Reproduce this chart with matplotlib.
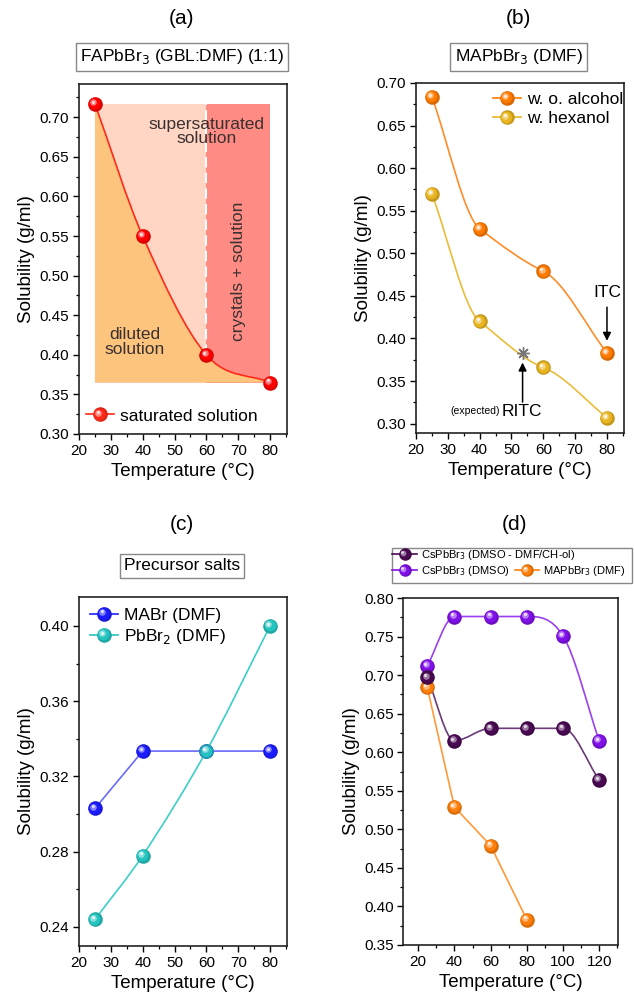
import numpy as np
import matplotlib
matplotlib.use("Agg")
import matplotlib.pyplot as plt
from matplotlib.path import Path
from matplotlib.patches import PathPatch, Rectangle
from matplotlib.ticker import MultipleLocator, AutoMinorLocator, FormatStrFormatter
from matplotlib.transforms import offset_copy
from matplotlib.lines import Line2D
from matplotlib.legend_handler import HandlerLine2D

plt.rcParams['font.family'] = ['Liberation Sans', 'DejaVu Sans']

# ---------------- data ----------------
# (a) FAPbBr3 (GBL:DMF) (1:1)
temp_a = [25, 40, 60, 80]
sol_a = [0.717, 0.550, 0.400, 0.365]

# (b) MAPbBr3 (DMF)
temp_b = [25, 40, 60, 80]
sol_b_wo = [0.684, 0.529, 0.479, 0.383]
sol_b_hex = [0.570, 0.420, 0.366, 0.307]
ritc_point = (53.5, 0.383)

# (c) Precursor salts
temp_c = [25, 40, 60, 80]
sol_mabr = [0.303, 0.3335, 0.3335, 0.3335]
sol_pbbr2 = [0.244, 0.278, 0.3335, 0.400]

# (d)
temp_d = [25, 40, 60, 80, 100, 120]
sol_cs_mix = [0.697, 0.615, 0.631, 0.631, 0.631, 0.564]
sol_cs_dmso = [0.712, 0.776, 0.776, 0.776, 0.751, 0.615]
temp_d_ma = [25, 40, 60, 80]
sol_d_ma = [0.684, 0.529, 0.479, 0.383]

labels_d = ['CsPbBr$_3$ (DMSO - DMF/CH-ol)', 'CsPbBr$_3$ (DMSO)', 'MAPbBr$_3$ (DMF)']

# ---------------- helpers ----------------
def limited_slopes(x, y, tension=1.0):
    """Cardinal-spline tangents with a Fritsch-Carlson limiter (no overshoot)."""
    x = np.asarray(x, float); y = np.asarray(y, float)
    n = len(x)
    dl = np.diff(y) / np.diff(x)
    d = np.zeros(n)
    d[0] = dl[0]; d[-1] = dl[-1]
    for k in range(1, n - 1):
        if dl[k - 1] * dl[k] <= 0:
            d[k] = 0.0
        else:
            d[k] = tension * (y[k + 1] - y[k - 1]) / (x[k + 1] - x[k - 1])
    for k in range(n - 1):
        if dl[k] == 0:
            d[k] = 0.0; d[k + 1] = 0.0
            continue
        a = d[k] / dl[k]; b = d[k + 1] / dl[k]
        s = a * a + b * b
        if s > 9:
            t = 3 / np.sqrt(s)
            d[k] = t * a * dl[k]; d[k + 1] = t * b * dl[k]
    return d


def smooth_path(x, y, tension=1.0):
    x = np.asarray(x, float); y = np.asarray(y, float)
    d = limited_slopes(x, y, tension)
    verts = [(x[0], y[0])]
    codes = [Path.MOVETO]
    for i in range(len(x) - 1):
        hh = x[i + 1] - x[i]
        verts += [(x[i] + hh / 3, y[i] + d[i] * hh / 3),
                  (x[i + 1] - hh / 3, y[i + 1] - d[i + 1] * hh / 3),
                  (x[i + 1], y[i + 1])]
        codes += [Path.CURVE4] * 3
    return Path(verts, codes)


def smooth_line(ax, x, y, color, lw=1.2, z=2, tension=1.0):
    p = PathPatch(smooth_path(x, y, tension), facecolor='none', edgecolor=color, lw=lw, zorder=z)
    ax.add_patch(p)


def lighten(c, f):
    c = np.array(matplotlib.colors.to_rgb(c))
    return tuple(c + (1 - c) * f)


def darken(c, f):
    c = np.array(matplotlib.colors.to_rgb(c))
    return tuple(c * (1 - f))


MS = 10.5


def spheres(ax, x, y, color, ms=MS, z=5):
    fig = ax.figure
    ax.plot(x, y, 'o', ms=ms, color=darken(color, 0.15), mec='none', zorder=z)
    ax.plot(x, y, 'o', ms=ms * 0.8, color=color, mec='none', zorder=z + 0.1,
            transform=offset_copy(ax.transData, fig=fig, x=-0.4, y=0.4, units='points'))
    ax.plot(x, y, 'o', ms=ms * 0.45, color=lighten(color, 0.45), mec='none', zorder=z + 0.2,
            transform=offset_copy(ax.transData, fig=fig, x=-1.2, y=1.2, units='points'))
    ax.plot(x, y, 'o', ms=ms * 0.22, color=lighten(color, 0.85), mec='none', zorder=z + 0.3,
            transform=offset_copy(ax.transData, fig=fig, x=-1.5, y=1.5, units='points'))


class SphereHandler(HandlerLine2D):
    def create_artists(self, legend, orig_handle, xdescent, ydescent, width, height, fontsize, trans):
        color = orig_handle.get_color()
        ms = orig_handle.get_markersize()
        yc = height / 2 - ydescent
        line = Line2D([-xdescent, width - xdescent], [yc, yc], color=orig_handle.get_color(),
                      lw=orig_handle.get_linewidth(), transform=trans)
        xm = width / 2 - xdescent
        arts = [line]
        for f, off, colr in [(1.0, 0, darken(color, 0.15)), (0.8, 0.4, color),
                             (0.45, 1.2, lighten(color, 0.45)), (0.22, 1.5, lighten(color, 0.85))]:
            m = Line2D([xm - off], [yc + off], marker='o', ms=ms * f, color=colr, mec='none',
                       linestyle='none', transform=trans)
            arts.append(m)
        return arts


def style_axes(ax, xmaj, ymaj, xlim, ylim, fs=11):
    ax.set_xlim(*xlim); ax.set_ylim(*ylim)
    ax.xaxis.set_major_locator(MultipleLocator(xmaj))
    ax.yaxis.set_major_locator(MultipleLocator(ymaj))
    ax.xaxis.set_minor_locator(AutoMinorLocator(2))
    ax.yaxis.set_minor_locator(AutoMinorLocator(2))
    ax.yaxis.set_major_formatter(FormatStrFormatter('%.2f'))
    ax.tick_params(which='major', direction='out', length=4.5, width=1.0, labelsize=fs, pad=2.5)
    ax.tick_params(which='minor', direction='out', length=2.5, width=0.9)
    ax.tick_params(top=False, right=False, which='both')
    for s in ax.spines.values():
        s.set_linewidth(1.2); s.set_color('#222222')
    ax.set_xlabel('Temperature (°C)', fontsize=13.5, labelpad=4)
    ax.set_ylabel('Solubility (g/ml)', fontsize=13.5, labelpad=3)


LEG = dict(frameon=False, fontsize=12.5, handlelength=1.6, handletextpad=0.35, labelspacing=0.25,
           borderpad=0.2, borderaxespad=0.2, handler_map={Line2D: SphereHandler()})

fig = plt.figure(figsize=(6.34, 10), dpi=100)

# ---------------- (a) ----------------
ax = fig.add_axes([0.1246, 0.566, 0.328, 0.350])
style_axes(ax, 10, 0.05, (20, 85.3), (0.30, 0.742))
top_a = sol_a[0]
bot_a = sol_a[-1]
c_orange = '#fdc47e'; c_peach = '#ffd5c4'; c_red = '#ff8c84'
ax.add_patch(Rectangle((temp_a[0], bot_a), temp_a[2] - temp_a[0], top_a - bot_a, color=c_peach, lw=0, zorder=0.5))
ax.add_patch(Rectangle((temp_a[2], bot_a), temp_a[3] - temp_a[2], top_a - bot_a, color=c_red, lw=0, zorder=0.5))
pth = smooth_path(temp_a, sol_a)
v = list(pth.vertices) + [(temp_a[-1], bot_a), (temp_a[0], bot_a), (temp_a[0], sol_a[0])]
cds = list(pth.codes) + [Path.LINETO, Path.LINETO, Path.CLOSEPOLY]
ax.add_patch(PathPatch(Path(v, cds), facecolor=c_orange, edgecolor='none', zorder=0.6))
ax.plot([temp_a[2], temp_a[2]], [sol_a[2], top_a], color='white', lw=1.5, ls=(0, (5, 2.5)), zorder=1)
smooth_line(ax, temp_a, sol_a, '#ff2a1a', lw=1.2, z=2)
spheres(ax, temp_a, sol_a, '#ff0000')
ax.text(60, 0.682, 'supersaturated\nsolution', ha='center', va='center', fontsize=12.5,
        color='#3a3030', linespacing=0.95, zorder=3)
ax.text(37.6, 0.416, 'diluted\nsolution', ha='center', va='center', fontsize=12.5,
        color='#3a3030', linespacing=0.95, zorder=3)
ax.text(70.2, 0.506, 'crystals + solution', ha='center', va='center', fontsize=12.5,
        color='#3a3030', rotation=90, zorder=3)
h = Line2D([], [], color='#ff2a1a', lw=1.2, marker='o', ms=MS)
ax.legend([h], ['saturated solution'], loc='lower left', bbox_to_anchor=(0.0, 0.01), **LEG)
fig.text(0.287, 0.982, '(a)', ha='center', va='center', fontsize=15)
fig.text(0.287, 0.943, 'FAPbBr$_3$ (GBL:DMF) (1:1)', ha='center', va='center', fontsize=12.5,
         bbox=dict(boxstyle='square,pad=0.25', fc='white', ec='#888888', lw=1.0))

# ---------------- (b) ----------------
ax = fig.add_axes([0.656, 0.567, 0.328, 0.350])
style_axes(ax, 10, 0.05, (20, 85.3), (0.289, 0.70))
c_or = '#ff7a00'; c_ye = '#e8b420'
smooth_line(ax, temp_b, sol_b_wo, '#ff8c2a', lw=1.2, tension=0.5)
smooth_line(ax, temp_b, sol_b_hex, '#eabc3a', lw=1.2, tension=0.5)
spheres(ax, temp_b, sol_b_wo, c_or)
spheres(ax, temp_b, sol_b_hex, c_ye)
ax.plot([ritc_point[0]], [ritc_point[1]], marker=(8, 2, 0), ms=9, color='#777777', mew=1.0, zorder=6)
ax.annotate('', xy=(temp_b[3], sol_b_wo[3] + 0.011), xytext=(temp_b[3], 0.440),
            arrowprops=dict(arrowstyle='-|>', color='black', lw=1.1, mutation_scale=12))
ax.text(temp_b[3], 0.454, 'ITC', ha='center', va='center', fontsize=12.5)
ax.annotate('', xy=(ritc_point[0], ritc_point[1] - 0.008), xytext=(ritc_point[0], 0.322),
            arrowprops=dict(arrowstyle='-|>', color='black', lw=1.1, mutation_scale=12))
ax.text(46.8, 0.314, 'RITC', ha='left', va='center', fontsize=12.5)
ax.text(46.3, 0.315, '(expected)', ha='right', va='center', fontsize=7.5)
hs = [Line2D([], [], color=c_or, lw=1.2, marker='o', ms=MS),
      Line2D([], [], color=c_ye, lw=1.2, marker='o', ms=MS)]
ax.legend(hs, ['w. o. alcohol', 'w. hexanol'], loc='upper right', bbox_to_anchor=(1.03, 0.995), **LEG)
fig.text(0.818, 0.982, '(b)', ha='center', va='center', fontsize=15)
fig.text(0.818, 0.943, 'MAPbBr$_3$ (DMF)', ha='center', va='center', fontsize=12.5,
         bbox=dict(boxstyle='square,pad=0.25', fc='white', ec='#888888', lw=1.0))

# ---------------- (c) ----------------
ax = fig.add_axes([0.1246, 0.054, 0.328, 0.349])
style_axes(ax, 10, 0.04, (20, 85.3), (0.2299, 0.4154))
c_bl = '#1c1cff'; c_cy = '#26c4c0'
ax.plot(temp_c, sol_mabr, color='#6a6af8', lw=1.2, zorder=2)
smooth_line(ax, temp_c, sol_pbbr2, '#3ccfca', lw=1.2)
spheres(ax, temp_c, sol_mabr, c_bl)
spheres(ax, temp_c, sol_pbbr2, c_cy)
hs = [Line2D([], [], color=c_bl, lw=1.2, marker='o', ms=MS),
      Line2D([], [], color=c_cy, lw=1.2, marker='o', ms=MS)]
ax.legend(hs, ['MABr (DMF)', 'PbBr$_2$ (DMF)'], loc='upper left', bbox_to_anchor=(0.02, 0.99), **LEG)
fig.text(0.287, 0.476, '(c)', ha='center', va='center', fontsize=15)
fig.text(0.287, 0.434, 'Precursor salts', ha='center', va='center', fontsize=12.5,
         bbox=dict(boxstyle='square,pad=0.25', fc='white', ec='#888888', lw=1.0))

# ---------------- (d) ----------------
ax = fig.add_axes([0.636, 0.055, 0.339, 0.347])
style_axes(ax, 20, 0.05, (11.7, 130.5), (0.35, 0.80))
c_dp = '#4a0a52'; c_pu = '#8010e8'; c_od = '#ff7f0a'
smooth_line(ax, temp_d, sol_cs_dmso, '#9a40ee', lw=1.2)
smooth_line(ax, temp_d, sol_cs_mix, '#6a3a78', lw=1.2)
ax.plot(temp_d_ma, sol_d_ma, color='#ff9a3a', lw=1.2, zorder=2)
spheres(ax, temp_d_ma, sol_d_ma, c_od, z=5)
spheres(ax, temp_d, sol_cs_mix, c_dp, z=6)
spheres(ax, temp_d, sol_cs_dmso, c_pu, z=4)
hd = [Line2D([], [], color=c, lw=1.2, marker='o', ms=9) for c in (c_dp, c_pu, c_od)]
LEGD = dict(frameon=False, fontsize=8, handlelength=2.2, handletextpad=0.4,
            borderpad=0.1, borderaxespad=0, handler_map={Line2D: SphereHandler()})
fig.legend([hd[0]], [labels_d[0]], loc='upper left', bbox_to_anchor=(0.617, 0.453), **LEGD)
fig.legend(hd[1:], labels_d[1:], loc='upper left', bbox_to_anchor=(0.617, 0.437), ncol=2,
           columnspacing=0.4, **LEGD)
fig.add_artist(Rectangle((0.618, 0.417), 0.379, 0.035, transform=fig.transFigure,
                         fill=False, ec='#888888', lw=1.0))
fig.text(0.811, 0.476, '(d)', ha='center', va='center', fontsize=15)

fig.savefig('out.png', dpi=100)
